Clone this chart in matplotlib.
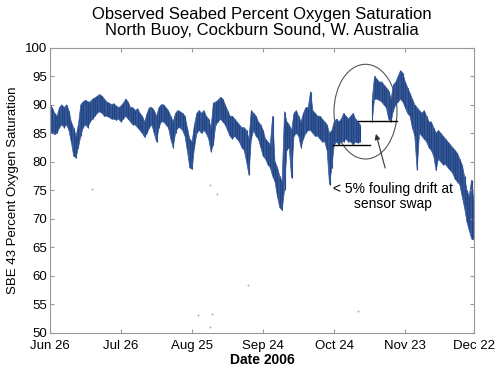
import numpy as np
import matplotlib
matplotlib.use("Agg")
import matplotlib.pyplot as plt
from matplotlib.patches import Ellipse

plt.rcParams['font.family'] = ['Liberation Sans', 'DejaVu Sans']

# days since Jun 26 2006
tick_days = [0, 30, 60, 90, 120, 150, 179]
tick_labels = ['Jun 26', 'Jul 26', 'Aug 25', 'Sep 24', 'Oct 24', 'Nov 23', 'Dec 22']

# daily low / high of the oxygen saturation band
lo = [85.5, 85.0, 84.8, 85.0, 86.0, 86.5, 86.0, 86.5, 85.5, 83.5,
      81.0, 80.7, 82.5, 84.5, 86.0, 86.5, 86.0, 87.0, 87.5, 88.0,
      88.5, 88.8, 88.5, 88.0, 88.0, 87.8, 87.5, 87.5, 87.3, 87.5,
      87.0, 87.5, 88.0, 87.5, 87.0, 86.5, 86.5, 86.0, 85.5, 85.0,
      84.3, 85.0, 86.0, 86.5, 85.0, 83.5, 86.0, 87.0, 87.0, 86.5,
      86.0, 84.0, 82.5, 85.0, 86.0, 86.0, 85.5, 84.5, 82.0, 79.0,
      78.7, 82.5, 85.0, 85.5, 85.0, 85.5, 85.0, 84.0, 81.8, 83.0,
      86.5, 87.0, 87.5, 87.0, 86.5, 85.5, 84.5, 84.0, 84.5, 84.0,
      83.5, 82.5, 82.0, 80.0, 77.7, 84.0, 85.5, 84.5, 84.0, 82.5,
      81.0, 80.5, 79.5, 79.0, 77.5, 76.5, 74.0, 72.0, 71.5, 75.0,
      82.0, 82.5, 77.2, 84.5, 85.0, 84.5, 82.5, 84.0, 85.0, 85.5,
      85.5, 85.0, 84.5, 84.5, 84.0, 83.5, 83.5, 82.0, 76.0, 79.0,
      83.0, 83.5, 83.0, 83.5, 83.5, 84.0, 83.5, 83.5, 83.0, 83.5,
      83.3, 83.5, np.nan, np.nan, np.nan, np.nan, 87.0, 91.0, 91.0, 90.8,
      90.5, 90.0, 89.5, 87.5, 87.0, 89.0, 90.0, 90.5, 91.0, 90.5,
      89.5, 88.5, 88.0, 86.0, 84.5, 78.6, 85.0, 84.5, 84.0, 83.5,
      82.5, 82.0, 81.0, 78.5, 80.5, 80.0, 79.5, 79.5, 79.0, 78.5,
      78.0, 77.0, 76.5, 76.0, 74.0, 72.0, 69.5, 68.0, 66.5, 66.3]
hi = [90.0, 89.5, 88.5, 88.0, 89.5, 90.0, 89.5, 90.0, 89.0, 87.0,
      86.0, 84.5, 86.5, 90.0, 90.5, 90.8, 90.5, 90.5, 91.0, 91.2,
      91.5, 91.8, 91.5, 91.0, 90.5, 90.3, 90.0, 90.2, 89.8, 89.5,
      89.8, 90.3, 91.0, 90.5, 89.5, 89.5, 89.0, 89.3, 88.5, 88.0,
      87.0, 88.5, 89.5, 89.5, 89.0, 88.0, 89.5, 90.0, 90.0, 89.5,
      89.0, 88.0, 87.0, 88.5, 89.0, 88.8, 88.5, 88.0, 86.0, 84.0,
      83.5, 86.5, 88.5, 89.0, 88.5, 89.0, 88.0, 87.5, 86.0, 90.3,
      90.5, 90.8, 91.3, 91.0, 90.0, 89.0, 88.0, 88.0, 87.5, 87.0,
      86.5, 86.0, 86.0, 85.5, 84.0, 89.0, 88.5, 88.0, 87.0, 86.5,
      85.5, 84.0, 83.5, 83.0, 88.0, 80.0, 79.0, 77.5, 76.5, 88.8,
      87.0, 86.5, 85.5, 88.5, 89.0, 88.0, 87.0, 88.5, 89.5, 89.5,
      92.3, 89.0, 88.5, 88.0, 88.0, 87.5, 87.0, 86.5, 85.0, 85.5,
      87.0, 87.5, 87.0, 87.5, 88.5, 88.0, 87.5, 88.0, 88.5, 87.5,
      87.0, 86.5, np.nan, np.nan, np.nan, np.nan, 90.8, 95.0, 94.5, 94.0,
      94.0, 93.5, 93.0, 92.5, 91.0, 93.5, 94.0, 95.0, 96.0, 95.5,
      94.0, 93.0, 92.0, 91.0, 90.0, 89.5, 89.0, 88.5, 89.0, 88.0,
      87.0, 87.0, 86.0, 85.0, 85.5, 85.0, 84.5, 84.0, 83.5, 83.0,
      82.5, 82.0, 81.5, 80.5, 79.5, 77.5, 75.0, 74.0, 76.8, 73.0]

# isolated outlier samples
out_days = [17.6, 67.5, 70.6, 83.4, 62.6, 68.6, 67.5, 130.0]
out_vals = [75.2, 76.0, 74.3, 58.4, 53.1, 53.3, 51.1, 53.9]

# before / after sensor swap levels
swap_before = (119.5, 135.3, 82.96)
swap_after = (130.1, 146.3, 87.16)

blue = "#34599b"
days = np.arange(len(lo))
lo_a = np.array(lo)
hi_a = np.array(hi)

fig = plt.figure(figsize=(5, 3.69), dpi=100)
ax = fig.add_axes([0.1, 0.0976, 0.848, 0.773])

ax.fill_between(days, lo_a, hi_a, color=blue, linewidth=0)
ax.vlines(days, lo_a, hi_a, color="#24447f", linewidth=0.8)
ax.plot(days, lo_a, color=blue, linewidth=0.5)
ax.plot(days, hi_a, color=blue, linewidth=0.5)
ax.plot(out_days, out_vals, linestyle="none", marker="s", markersize=1.2,
        color="#9aa6bd", markeredgewidth=0)

for x0, x1, yv in [swap_before, swap_after]:
    ax.plot([x0, x1], [yv, yv], color="black", linewidth=1.0)

ax.add_patch(Ellipse((133.2, 88.8), 26.6, 16.6, fill=False,
                     edgecolor="#555555", linewidth=0.8))
ax.annotate("< 5% fouling drift at\nsensor swap", xy=(137.6, 84.9),
            xytext=(144.7, 74.0), ha="center", va="center", fontsize=10,
            linespacing=1.1,
            arrowprops=dict(arrowstyle="-|>", color="#333333", lw=0.8,
                            mutation_scale=8, shrinkA=8, shrinkB=0))

ax.set_xlim(0, 179)
ax.set_ylim(50, 100)
ax.set_xticks(tick_days)
ax.set_xticklabels(tick_labels)
ax.set_yticks(np.arange(50, 101, 5))
ax.tick_params(direction="in", top=True, right=True, length=3,
               color="#999999", labelsize=9.5, pad=2)
ax.tick_params(axis="x", pad=5)
for s in ax.spines.values():
    s.set_color("#999999")

ax.set_xlabel("Date 2006", fontsize=10, fontweight="bold", labelpad=1)
ax.set_ylabel("SBE 43 Percent Oxygen Saturation", fontsize=9.5, labelpad=4)
ax.set_title("Observed Seabed Percent Oxygen Saturation\n"
             "North Buoy, Cockburn Sound, W. Australia",
             fontsize=12, linespacing=1.1, pad=9)

fig.savefig("out.png", dpi=100)
